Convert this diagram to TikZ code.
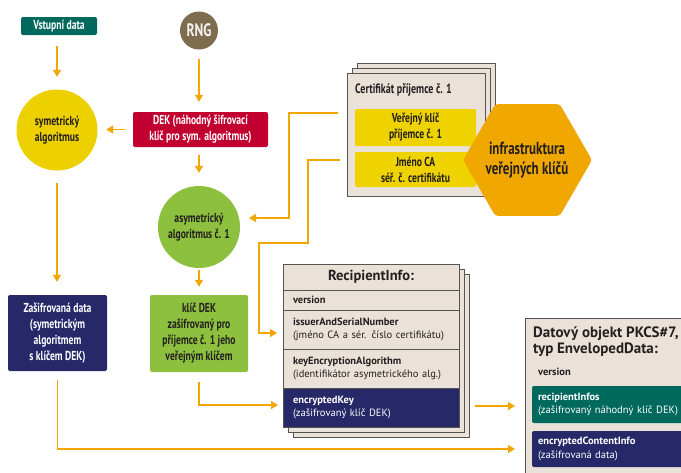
\documentclass[tikz,border=0pt]{standalone}
\usepackage{fontspec}
\setmainfont{PT Sans}
\newfontfamily\cond{PT Sans}[FakeStretch=0.74]
\usetikzlibrary{arrows.meta}
\definecolor{tealc}{HTML}{00695E}
\definecolor{rngc}{HTML}{7E6C4E}
\definecolor{symc}{HTML}{EDD000}
\definecolor{redc}{HTML}{C20030}
\definecolor{greenc}{HTML}{8CC03E}
\definecolor{navyc}{HTML}{262868}
\definecolor{lineor}{HTML}{F2A700}
\definecolor{hexc}{HTML}{F0A800}
\definecolor{beigec}{HTML}{EAE2D8}
\definecolor{fieldy}{HTML}{EFD300}
\definecolor{borderc}{HTML}{555555}
\definecolor{textc}{HTML}{231F20}
\begin{document}
\begin{tikzpicture}[x=1pt,y=-1pt,
  arr/.style={draw=lineor, line width=1.4pt, -{Triangle[length=7pt,width=8pt]}},
  lbl/.style={font=\cond\bfseries\fontsize{13}{16}\selectfont, align=center, inner sep=0pt, text=textc},
  rbox/.style={lbl, rounded corners=2pt},
  circ/.style={lbl, circle},
  sheet/.style={draw=borderc, line width=0.9pt, fill=beigec},
  field/.style={rbox, fill=fieldy},
  row/.style={draw=borderc, line width=0.9pt, minimum width=176pt, text width=156pt, inner xsep=10pt, inner ysep=0pt, align=left, font=\fontsize{10.5}{13.5}\selectfont, text=textc},
  inbox/.style={rounded corners=2pt, minimum width=168pt, text width=156pt, inner xsep=6pt, inner ysep=0pt, align=left, font=\fontsize{10.5}{13.5}\selectfont, text=white}
]
\useasboundingbox (0,0) rectangle (681,472);
\fill[white] (0,0) rectangle (681,472);

% left column
\node[rbox, fill=tealc, text=white, minimum width=76pt, minimum height=18pt, font=\cond\bfseries\fontsize{13}{14}\selectfont] (vst) at (59,26) {Vstupní data};
\node[circ, fill=rngc, text=white!92!rngc, minimum size=38pt, font=\cond\bfseries\fontsize{18}{18}\selectfont] (rng) at (199,30.5) {RNG};
\node[circ, fill=symc, minimum size=81pt] (sym) at (57,130) {symetrický\\algoritmus};
\node[rbox, fill=redc, text=white, minimum width=135pt, minimum height=35pt] (dek) at (200.5,129.5) {DEK (náhodný šifrovací\\klíč pro sym. algoritmus)};
\node[circ, fill=greenc, minimum size=82pt] (asym) at (199,227) {asymetrický\\algoritmus č. 1};
\node[rbox, fill=navyc, text=white, minimum width=99pt, minimum height=76pt] (zd) at (57.5,333) {Zašifrovaná data\\(symetrickým\\algoritmem\\s klíčem DEK)};
\node[rbox, fill=greenc, minimum width=98pt, minimum height=77pt] (kd) at (199,333.5) {klíč DEK\\zašifrovaný pro\\příjemce č. 1 jeho\\veřejným klíčem};

% certificate stack
\node[sheet, minimum width=138pt, minimum height=123pt] (cert3) at (426,124.5) {};
\node[sheet, minimum width=138pt, minimum height=123pt] (cert2) at (421,129.5) {};
\node[sheet, minimum width=138pt, minimum height=123pt] (cert1) at (416,134.5) {};
\node[lbl, anchor=base west, font=\cond\bfseries\fontsize{13.5}{14}\selectfont] (certt) at (355,93) {Certifikát příjemce č. 1};
\node[field, minimum width=121pt, minimum height=37pt] (vk) at (415.5,127.5) {Veřejný klíč\\příjemce č. 1};
\node[field, minimum width=121pt, minimum height=35pt] (jca) at (415.5,169.5) {Jméno CA\\séř. č. certifikátu};

% PKI hexagon
\fill[hexc, rounded corners=3pt] (463,160) -- (495.25,104.1) -- (559.75,104.1) -- (592,160) -- (559.75,215.9) -- (495.25,215.9) -- cycle;
\node[lbl, font=\cond\bfseries\fontsize{17.5}{20}\selectfont] (pki) at (527,160) {infrastruktura\\veřejných klíčů};

% RecipientInfo stack
\node[sheet, minimum width=176pt, minimum height=163pt] (ri3) at (381,355.5) {};
\node[sheet, minimum width=176pt, minimum height=163pt] (ri2) at (376,350.5) {};
\node[sheet, minimum width=176pt, minimum height=163pt] (ri1) at (371,345.5) {};
\node[row, minimum height=26pt, align=center, font=\bfseries\fontsize{14.5}{16}\selectfont] (rit) at (371,277) {RecipientInfo:};
\node[row, minimum height=20pt, font=\bfseries\fontsize{10.5}{13}\selectfont] (riv) at (371,300) {version};
\node[row, minimum height=39pt] (ris) at (371,329.5) {\textbf{issuerAndSerialNumber}\\(jméno CA a sér. číslo certifikátu)};
\node[row, minimum height=39pt] (rik) at (371,368.5) {\textbf{keyEncryptionAlgorithm}\\(identifikátor asymetrického alg.)};
\node[row, minimum height=39pt, fill=navyc, text=white] (rie) at (371,407.5) {\textbf{encryptedKey}\\(zašifrovaný klíč DEK)};

% PKCS#7 box
\begin{scope}
\clip (0,0) rectangle (681,472);
\node[sheet, minimum width=175pt, minimum height=172pt] (pk) at (612.5,404) {};
\node[anchor=north west, align=left, inner sep=0pt, text=textc, font=\bfseries\fontsize{15}{16}\selectfont] (pkt) at (533,326) {Datový objekt PKCS\#7,\\typ EnvelopedData:};
\node[anchor=west, inner sep=0pt, text=textc, font=\bfseries\fontsize{10.5}{13}\selectfont] (pkv) at (538,372) {version};
\node[inbox, fill=tealc, minimum height=37pt] (pri) at (616,404.5) {\textbf{recipientInfos}\\(zašifrovaný náhodný klíč DEK)};
\node[inbox, fill=navyc, minimum height=36pt] (pec) at (616,449) {\textbf{encryptedContentInfo}\\(zašifrovaná data)};
\end{scope}

% connectors
\draw[arr, shorten <=11pt, shorten >=12.5pt] (sym.north |- vst.south) -- (sym.north);
\draw[arr, shorten <=9pt, shorten >=10pt] (rng.south) -- (rng.south |- dek.north);
\draw[arr, shorten <=8pt, shorten >=8.5pt] (dek.west) -- (dek.west -| sym.east);
\draw[arr, shorten <=8pt, shorten >=13pt] (asym.north |- dek.south) -- (asym.north);
\draw[arr, shorten <=2pt, shorten >=8pt] (asym.south) -- (asym.south |- kd.north);
\draw[arr, shorten <=12pt, shorten >=13pt] (sym.south) -- (sym.south |- zd.north);

\coordinate (p1) at (338,113);
\coordinate (p1e) at (249,218);
\draw[arr] (p1) -- (289,113) |- (p1e);
\coordinate (p2) at (340,160);
\coordinate (p2e) at (277,333);
\draw[arr] (p2) -- (308,160) -- (308,243) -- (259,243) |- (p2e);
\coordinate (p3e) at (278,405);
\draw[arr, shorten <=10pt] (kd.south) |- (p3e);
\coordinate (p4e) at (515,449);
\draw[arr, shorten <=9pt] (zd.south) |- (p4e);
\coordinate (p5) at (475,406);
\coordinate (p5e) at (515,406);
\draw[arr] (p5) -- (p5e);
\end{tikzpicture}
\end{document}
